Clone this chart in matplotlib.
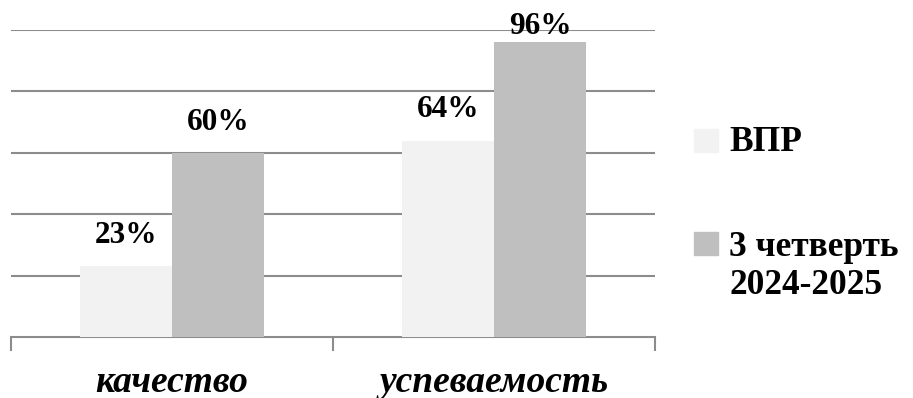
import matplotlib
matplotlib.use('Agg')
import matplotlib.pyplot as plt
import numpy as np
from matplotlib.patches import Rectangle

categories = ['качество', 'успеваемость']
series_names = ['ВПР', '3 четверть\n2024-2025']
vpr = [23, 64]
quarter3 = [60, 96]

colors = ['#f2f2f2', '#bfbfbf']
serif = ['Liberation Serif', 'DejaVu Serif']

fig = plt.figure(figsize=(9.13, 3.98), dpi=100)
ax = fig.add_axes([11 / 913, 61 / 398, 644 / 913, 307 / 398])

x = np.arange(len(categories))
w = 0.285
for i, (vals, col) in enumerate(zip([vpr, quarter3], colors)):
    pos = x + (i - 0.5) * w
    ax.bar(pos, vals, width=w, color=col, zorder=3)
    for xp, v in zip(pos, vals):
        ax.annotate(f'{v}%', (xp, min(v + 10, 101)), ha='center', va='center',
                    fontsize=22.5, fontweight='bold', family=serif,
                    annotation_clip=False, zorder=4)

ax.set_xlim(-0.5, len(categories) - 0.5)
ax.set_ylim(0, 100)
ax.set_yticks(np.arange(20, 101, 20))
ax.yaxis.grid(True, color='#8c8c8c', linewidth=1.5, zorder=1)
ax.tick_params(axis='y', left=False, labelleft=False)
for s in ['top', 'right', 'left']:
    ax.spines[s].set_visible(False)
ax.spines['bottom'].set_color('#8c8c8c')
ax.spines['bottom'].set_linewidth(1.5)

ax.set_xticks(x)
ax.set_xticklabels(categories, fontsize=27, fontweight='bold', style='italic', family=serif)
ax.tick_params(axis='x', which='major', length=0, pad=20)
ax.set_xticks(np.arange(-0.5, len(categories), 1), minor=True)
ax.tick_params(axis='x', which='minor', length=10, width=1.5, color='#8c8c8c')

# legend drawn by hand to match layout
box_top = [129, 232]
text_top = [126, 231]
for name, col, bt, tt in zip(series_names, colors, box_top, text_top):
    fig.add_artist(Rectangle((694 / 913, 1 - (bt + 23) / 398), 24 / 913, 23 / 398,
                             transform=fig.transFigure, color=col))
    fig.text(729 / 913, 1 - tt / 398, name, ha='left', va='top', fontsize=25.5,
             fontweight='bold', family=serif, linespacing=1.2)

fig.savefig('out.png', dpi=100)
